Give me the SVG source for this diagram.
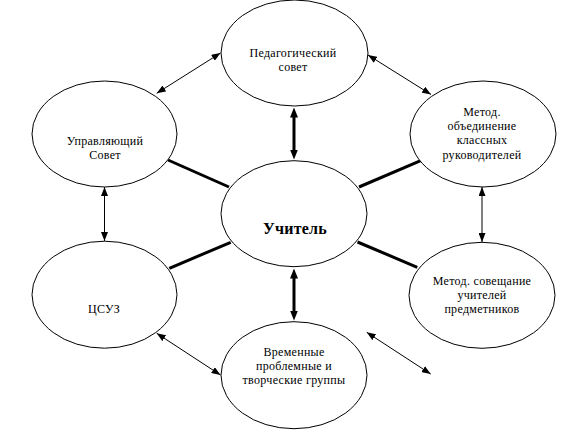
<svg xmlns="http://www.w3.org/2000/svg" width="579" height="432" viewBox="0 0 579 432">
<style>
.n{fill:#fff;stroke:#000;stroke-width:1}
text{font-family:'Liberation Serif','Times New Roman','DejaVu Serif',serif;font-size:12px;fill:#000;text-anchor:middle;letter-spacing:0.3px}
.big{font-size:16px;font-weight:bold;letter-spacing:0.2px}
.thin{stroke:#000;stroke-width:1;fill:none;marker-start:url(#ah);marker-end:url(#ah)}
.thick{stroke:#000;stroke-width:3;fill:none}
.thickarrow{stroke:#000;stroke-width:3;fill:none;marker-start:url(#AH);marker-end:url(#AH)}
</style>
<defs>
<marker id="ah" markerUnits="userSpaceOnUse" markerWidth="9" markerHeight="7" refX="9" refY="3.5" orient="auto-start-reverse"><path d="M0,0 L9,3.5 L0,7 z" fill="#000"/></marker>
<marker id="AH" markerUnits="userSpaceOnUse" markerWidth="10" markerHeight="8" refX="0.5" refY="4" orient="auto-start-reverse"><path d="M0,0 L10,4 L0,8 z" fill="#000"/></marker>
</defs>
<rect width="579" height="432" fill="#fff"/>
<g id="connectors">
<line class="thin" x1="156.7" y1="93.3" x2="220.5" y2="53"/>
<line class="thin" x1="368" y1="55" x2="431" y2="94.5"/>
<line class="thin" x1="104.5" y1="187" x2="104.5" y2="241"/>
<line class="thin" x1="482" y1="187" x2="482" y2="242"/>
<line class="thin" x1="156.7" y1="333.3" x2="220.5" y2="375"/>
<line class="thin" x1="366.7" y1="332.3" x2="430.7" y2="374"/>
<line class="thick" x1="168" y1="160" x2="229" y2="187"/>
<line class="thick" x1="359" y1="187" x2="420.7" y2="160.7"/>
<line class="thick" x1="169.3" y1="268.3" x2="230.7" y2="242.3"/>
<line class="thick" x1="357.5" y1="242" x2="417.3" y2="267.3"/>
<line class="thickarrow" x1="294" y1="117" x2="294" y2="150"/>
<line class="thickarrow" x1="294" y1="278" x2="294" y2="311"/>
</g>
<g id="ped-sovet">
<ellipse class="n" cx="294.5" cy="53" rx="73.5" ry="53"/>
<text font-family="Liberation Serif, serif" x="293" y="57.3">Педагогический</text>
<text font-family="Liberation Serif, serif" x="293" y="71">совет</text>
</g>
<g id="upr-sovet">
<ellipse class="n" cx="104.5" cy="134" rx="72.5" ry="53"/>
<text font-family="Liberation Serif, serif" x="105" y="145">Управляющий</text>
<text font-family="Liberation Serif, serif" x="105" y="159">Совет</text>
</g>
<g id="metod-obed">
<ellipse class="n" cx="483" cy="134" rx="73" ry="53"/>
<text font-family="Liberation Serif, serif" x="482" y="115.7">Метод.</text>
<text font-family="Liberation Serif, serif" x="482" y="130">объединение</text>
<text font-family="Liberation Serif, serif" x="482" y="144">классных</text>
<text font-family="Liberation Serif, serif" x="482" y="158.7">руководителей</text>
</g>
<g id="uchitel">
<ellipse class="n" cx="294" cy="213.7" rx="73" ry="53"/>
<text class="big" font-family="Liberation Serif, serif" x="295" y="234">Учитель</text>
</g>
<g id="csuz">
<ellipse class="n" cx="104.5" cy="294.7" rx="72.5" ry="53.5"/>
<text font-family="Liberation Serif, serif" x="104" y="313">ЦСУЗ</text>
</g>
<g id="metod-sovesh">
<ellipse class="n" cx="482" cy="295.3" rx="73" ry="53"/>
<text font-family="Liberation Serif, serif" x="482" y="285">Метод. совещание</text>
<text font-family="Liberation Serif, serif" x="482" y="299.3">учителей</text>
<text font-family="Liberation Serif, serif" x="482" y="313.3">предметников</text>
</g>
<g id="vremennye">
<ellipse class="n" cx="294" cy="375.2" rx="73" ry="53.5"/>
<text font-family="Liberation Serif, serif" x="294" y="356">Временные</text>
<text font-family="Liberation Serif, serif" x="294" y="370">проблемные и</text>
<text font-family="Liberation Serif, serif" x="294" y="384">творческие группы</text>
</g>
</svg>
